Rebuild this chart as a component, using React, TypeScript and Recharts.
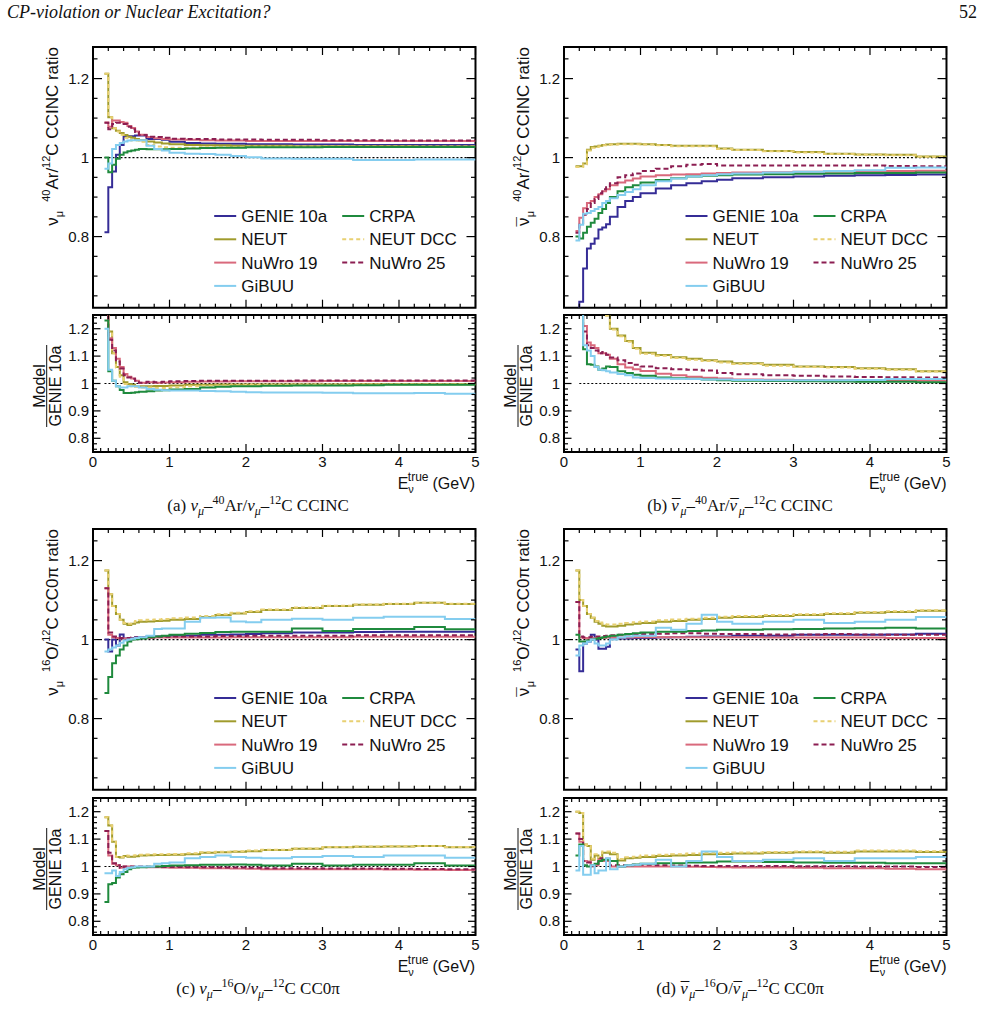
import React from 'react';
import { LineChart, Line, XAxis, YAxis, ReferenceLine, ReferenceArea } from 'recharts';

// bin edges in GeV, shared by every histogram (26 bins)
const EDGES = [0.15, 0.2, 0.25, 0.3, 0.35, 0.4, 0.45, 0.5, 0.55, 0.6, 0.7, 0.8, 0.9, 1.0, 1.2, 1.4, 1.6, 1.8, 2.0, 2.2, 2.6, 3.0, 3.4, 3.8, 4.2, 4.6, 5.0];

const X_LABELS = ['0', '1', '2', '3', '4', '5'];
const TOP_Y_MAJOR = [0.8, 1.0, 1.2];
const TOP_Y_LABELS = ['0.8', '1', '1.2'];
const RATIO_Y_MAJOR = [0.8, 0.9, 1.0, 1.1, 1.2];
const RATIO_Y_LABELS = ['0.8', '0.9', '1', '1.1', '1.2'];

// (a) numu 40Ar / 12C CCINC
const A_GENIE = [0.811, 0.925, 0.965, 1.007, 1.032, 1.052, 1.054, 1.054, 1.056, 1.056, 1.047, 1.047, 1.045, 1.04, 1.037, 1.036, 1.035, 1.035, 1.034, 1.034, 1.033, 1.033, 1.032, 1.032, 1.032, 1.032];
const A_NEUT = [1.212, 1.102, 1.074, 1.068, 1.062, 1.057, 1.053, 1.05, 1.047, 1.044, 1.041, 1.038, 1.036, 1.034, 1.032, 1.031, 1.031, 1.03, 1.03, 1.03, 1.029, 1.029, 1.029, 1.029, 1.028, 1.028];
const A_DCC = [1.212, 1.102, 1.074, 1.066, 1.058, 1.05, 1.046, 1.043, 1.043, 1.04, 1.032, 1.028, 1.026, 1.025, 1.025, 1.026, 1.027, 1.027, 1.028, 1.028, 1.028, 1.028, 1.028, 1.028, 1.028, 1.028];
const A_NUWRO19 = [1.089, 1.078, 1.094, 1.094, 1.09, 1.088, 1.08, 1.075, 1.066, 1.058, 1.052, 1.049, 1.047, 1.046, 1.045, 1.044, 1.043, 1.043, 1.042, 1.042, 1.042, 1.042, 1.042, 1.042, 1.042, 1.042];
const A_NUWRO25 = [1.088, 1.072, 1.085, 1.088, 1.088, 1.085, 1.078, 1.072, 1.065, 1.057, 1.053, 1.052, 1.05, 1.048, 1.047, 1.047, 1.046, 1.046, 1.046, 1.045, 1.045, 1.044, 1.044, 1.043, 1.043, 1.043];
const A_CRPA = [1.0, 0.963, 0.982, 0.997, 1.007, 1.013, 1.016, 1.018, 1.02, 1.022, 1.021, 1.021, 1.021, 1.022, 1.023, 1.024, 1.025, 1.025, 1.026, 1.026, 1.026, 1.027, 1.027, 1.027, 1.027, 1.027];
const A_GIBUU = [0.972, 0.985, 1.022, 1.032, 1.037, 1.041, 1.043, 1.044, 1.044, 1.044, 1.03, 1.022, 1.018, 1.012, 1.01, 1.009, 1.007, 1.004, 1.001, 0.998, 0.997, 0.997, 0.994, 0.994, 0.995, 0.995];

const AR_NEUT = [1.49, 1.19, 1.11, 1.06, 1.03, 1.005, 0.998, 0.995, 0.99, 0.99, 0.99, 0.991, 0.991, 0.993, 0.995, 0.995, 0.996, 0.996, 0.996, 0.996, 0.996, 0.996, 0.997, 0.997, 0.997, 0.997];
const AR_DCC = [1.49, 1.19, 1.11, 1.058, 1.025, 0.998, 0.992, 0.99, 0.988, 0.985, 0.985, 0.984, 0.984, 0.986, 0.99, 0.992, 0.993, 0.994, 0.995, 0.995, 0.996, 0.996, 0.996, 0.997, 0.997, 0.997];
const AR_NUWRO19 = [1.35, 1.165, 1.13, 1.09, 1.06, 1.035, 1.025, 1.018, 1.01, 1.003, 1.005, 1.003, 1.004, 1.005, 1.006, 1.007, 1.007, 1.008, 1.008, 1.008, 1.008, 1.009, 1.009, 1.009, 1.009, 1.009];
const AR_NUWRO25 = [1.35, 1.16, 1.12, 1.08, 1.055, 1.03, 1.022, 1.017, 1.01, 1.003, 1.006, 1.005, 1.006, 1.008, 1.009, 1.01, 1.01, 1.01, 1.01, 1.01, 1.011, 1.011, 1.011, 1.011, 1.011, 1.011];
const AR_CRPA = [1.23, 1.045, 1.01, 0.99, 0.976, 0.965, 0.965, 0.966, 0.968, 0.97, 0.972, 0.974, 0.975, 0.978, 0.98, 0.985, 0.988, 0.99, 0.99, 0.992, 0.993, 0.993, 0.994, 0.995, 0.995, 0.995];
const AR_GIBUU = [1.2, 1.05, 1.01, 0.99, 0.985, 0.985, 0.99, 0.99, 0.99, 0.985, 0.98, 0.977, 0.975, 0.974, 0.974, 0.973, 0.972, 0.97, 0.968, 0.967, 0.967, 0.966, 0.964, 0.964, 0.965, 0.963];

// (b) numubar 40Ar / 12C CCINC
const B_GENIE = [0.55, 0.635, 0.719, 0.77, 0.782, 0.795, 0.818, 0.823, 0.831, 0.85, 0.875, 0.89, 0.9, 0.91, 0.922, 0.93, 0.935, 0.94, 0.944, 0.948, 0.95, 0.952, 0.954, 0.955, 0.956, 0.957];
const B_NEUT = [0.978, 0.978, 0.985, 1.02, 1.027, 1.028, 1.03, 1.032, 1.033, 1.034, 1.035, 1.035, 1.035, 1.034, 1.032, 1.03, 1.03, 1.03, 1.023, 1.02, 1.017, 1.014, 1.01, 1.008, 1.007, 1.003];
const B_DCC = [0.976, 0.976, 0.983, 1.018, 1.025, 1.027, 1.029, 1.031, 1.032, 1.033, 1.034, 1.034, 1.034, 1.033, 1.031, 1.029, 1.029, 1.029, 1.022, 1.019, 1.016, 1.013, 1.009, 1.007, 1.006, 1.002];
const B_NUWRO19 = [0.814, 0.848, 0.872, 0.885, 0.89, 0.9, 0.907, 0.915, 0.92, 0.93, 0.937, 0.942, 0.947, 0.952, 0.955, 0.957, 0.958, 0.96, 0.961, 0.962, 0.963, 0.964, 0.965, 0.966, 0.966, 0.967];
const B_NUWRO25 = [0.81, 0.83, 0.855, 0.87, 0.885, 0.895, 0.91, 0.92, 0.925, 0.935, 0.95, 0.955, 0.96, 0.966, 0.972, 0.978, 0.982, 0.984, 0.98, 0.98, 0.98, 0.98, 0.98, 0.98, 0.979, 0.978];
const B_CRPA = [0.8, 0.795, 0.81, 0.825, 0.835, 0.845, 0.86, 0.87, 0.885, 0.9, 0.915, 0.925, 0.93, 0.937, 0.943, 0.948, 0.952, 0.954, 0.955, 0.957, 0.958, 0.959, 0.96, 0.961, 0.961, 0.962];
const B_GIBUU = [0.79, 0.83, 0.858, 0.86, 0.865, 0.87, 0.875, 0.885, 0.89, 0.897, 0.905, 0.913, 0.92, 0.93, 0.94, 0.947, 0.952, 0.955, 0.958, 0.96, 0.962, 0.964, 0.966, 0.968, 0.974, 0.975];

const BR_NEUT = [1.6, 1.55, 1.4, 1.33, 1.31, 1.29, 1.27, 1.26, 1.25, 1.2, 1.175, 1.155, 1.13, 1.112, 1.104, 1.096, 1.09, 1.085, 1.08, 1.074, 1.068, 1.062, 1.06, 1.056, 1.052, 1.045];
const BR_DCC = [1.6, 1.55, 1.4, 1.33, 1.31, 1.29, 1.268, 1.257, 1.247, 1.197, 1.172, 1.152, 1.127, 1.109, 1.101, 1.093, 1.087, 1.082, 1.077, 1.071, 1.065, 1.06, 1.058, 1.054, 1.05, 1.044];
const BR_NUWRO19 = [1.5, 1.33, 1.21, 1.15, 1.14, 1.13, 1.11, 1.11, 1.105, 1.09, 1.07, 1.058, 1.052, 1.046, 1.036, 1.03, 1.025, 1.021, 1.018, 1.015, 1.014, 1.013, 1.012, 1.011, 1.01, 1.01];
const BR_NUWRO25 = [1.4, 1.3, 1.19, 1.14, 1.13, 1.12, 1.11, 1.115, 1.105, 1.095, 1.085, 1.075, 1.068, 1.062, 1.056, 1.052, 1.05, 1.047, 1.038, 1.034, 1.03, 1.028, 1.026, 1.024, 1.023, 1.022];
const BR_CRPA = [1.4, 1.26, 1.125, 1.07, 1.068, 1.062, 1.05, 1.055, 1.062, 1.06, 1.045, 1.038, 1.032, 1.028, 1.022, 1.019, 1.017, 1.015, 1.012, 1.01, 1.009, 1.008, 1.007, 1.006, 1.006, 1.005];
const BR_GIBUU = [1.4, 1.3, 1.14, 1.12, 1.1, 1.06, 1.05, 1.048, 1.045, 1.04, 1.035, 1.03, 1.022, 1.02, 1.018, 1.017, 1.016, 1.015, 1.015, 1.013, 1.012, 1.012, 1.012, 1.013, 1.016, 1.016];

// (c) numu 16O / 12C CC0pi
const C_GENIE = [1.0, 0.97, 1.0, 0.985, 1.013, 1.003, 1.002, 1.004, 1.006, 1.006, 1.008, 1.008, 1.009, 1.01, 1.01, 1.012, 1.012, 1.013, 1.014, 1.016, 1.018, 1.018, 1.019, 1.02, 1.02, 1.02];
const C_NEUT = [1.175, 1.115, 1.085, 1.065, 1.05, 1.04, 1.037, 1.04, 1.043, 1.045, 1.046, 1.047, 1.048, 1.05, 1.052, 1.057, 1.062, 1.066, 1.07, 1.075, 1.08, 1.085, 1.088, 1.09, 1.093, 1.09];
const C_DCC = [1.175, 1.115, 1.085, 1.065, 1.05, 1.042, 1.04, 1.044, 1.047, 1.049, 1.05, 1.051, 1.052, 1.054, 1.056, 1.06, 1.064, 1.068, 1.072, 1.076, 1.081, 1.086, 1.089, 1.091, 1.093, 1.091];
const C_NUWRO19 = [1.13, 1.012, 1.006, 1.004, 1.003, 1.003, 1.003, 1.003, 1.004, 1.004, 1.004, 1.005, 1.005, 1.005, 1.005, 1.005, 1.005, 1.006, 1.006, 1.006, 1.006, 1.006, 1.007, 1.007, 1.007, 1.007];
const C_NUWRO25 = [1.13, 1.018, 1.008, 1.005, 1.004, 1.004, 1.004, 1.005, 1.005, 1.006, 1.006, 1.007, 1.007, 1.008, 1.008, 1.008, 1.009, 1.009, 1.01, 1.01, 1.01, 1.01, 1.011, 1.011, 1.011, 1.011];
const C_CRPA = [0.865, 0.905, 0.94, 0.96, 0.975, 0.985, 0.995, 1.0, 1.001, 1.003, 1.006, 1.008, 1.01, 1.012, 1.015, 1.017, 1.019, 1.02, 1.02, 1.02, 1.028, 1.022, 1.027, 1.027, 1.032, 1.026];
const C_GIBUU = [0.97, 0.975, 0.98, 0.985, 0.992, 0.998, 1.0, 1.002, 1.004, 1.006, 1.01, 1.027, 1.028, 1.028, 1.045, 1.055, 1.056, 1.046, 1.044, 1.05, 1.053, 1.05, 1.055, 1.058, 1.058, 1.052];

const CR_NEUT = [1.18, 1.15, 1.09, 1.035, 1.033, 1.038, 1.036, 1.036, 1.037, 1.04, 1.041, 1.042, 1.042, 1.043, 1.045, 1.05, 1.052, 1.054, 1.056, 1.06, 1.065, 1.07, 1.072, 1.073, 1.075, 1.07];
const CR_DCC = [1.18, 1.15, 1.09, 1.035, 1.035, 1.04, 1.039, 1.04, 1.041, 1.043, 1.044, 1.045, 1.045, 1.046, 1.048, 1.052, 1.054, 1.056, 1.058, 1.061, 1.066, 1.071, 1.073, 1.074, 1.075, 1.071];
const CR_NUWRO19 = [1.13, 1.04, 1.01, 1.005, 0.995, 1.0, 1.0, 0.999, 0.998, 0.998, 0.997, 0.997, 0.996, 0.995, 0.995, 0.994, 0.994, 0.993, 0.992, 0.99, 0.99, 0.99, 0.99, 0.989, 0.988, 0.987];
const CR_NUWRO25 = [1.13, 1.05, 1.012, 1.005, 0.995, 1.0, 1.0, 1.0, 1.0, 1.0, 0.999, 0.999, 0.998, 0.998, 0.997, 0.997, 0.996, 0.996, 0.995, 0.994, 0.994, 0.993, 0.993, 0.992, 0.991, 0.99];
const CR_CRPA = [0.87, 0.935, 0.94, 0.96, 0.972, 0.98, 0.99, 0.995, 0.996, 0.997, 0.999, 1.0, 1.002, 1.004, 1.005, 1.006, 1.006, 1.007, 1.006, 1.004, 1.01, 1.004, 1.006, 1.006, 1.012, 1.004];
const CR_GIBUU = [0.975, 0.975, 0.985, 0.965, 0.98, 0.99, 0.995, 0.997, 1.0, 1.0, 1.0, 1.01, 1.012, 1.015, 1.03, 1.035, 1.04, 1.035, 1.032, 1.03, 1.035, 1.038, 1.035, 1.04, 1.04, 1.032];

// (d) numubar 16O / 12C CC0pi
const D_GENIE = [0.975, 0.92, 0.99, 0.995, 1.012, 1.0, 0.977, 0.977, 0.982, 1.005, 1.003, 1.003, 1.004, 1.004, 1.005, 1.006, 1.007, 1.008, 1.008, 1.01, 1.01, 1.012, 1.012, 1.012, 1.013, 1.015];
const D_NEUT = [1.175, 1.1, 1.085, 1.065, 1.055, 1.045, 1.04, 1.035, 1.033, 1.033, 1.035, 1.038, 1.04, 1.042, 1.045, 1.047, 1.05, 1.052, 1.055, 1.057, 1.06, 1.062, 1.065, 1.068, 1.07, 1.073];
const D_DCC = [1.175, 1.1, 1.085, 1.065, 1.055, 1.047, 1.043, 1.039, 1.038, 1.038, 1.04, 1.042, 1.044, 1.046, 1.049, 1.051, 1.053, 1.055, 1.058, 1.06, 1.062, 1.064, 1.067, 1.07, 1.072, 1.074];
const D_NUWRO19 = [1.095, 1.005, 1.004, 1.003, 1.003, 1.004, 1.004, 1.004, 1.005, 1.005, 1.005, 1.005, 1.006, 1.006, 1.006, 1.006, 1.006, 1.006, 1.006, 1.006, 1.005, 1.005, 1.005, 1.005, 1.004, 1.004];
const D_NUWRO25 = [1.095, 1.008, 1.006, 1.006, 1.007, 1.008, 1.008, 1.009, 1.01, 1.011, 1.012, 1.013, 1.013, 1.014, 1.015, 1.016, 1.016, 1.015, 1.014, 1.014, 1.013, 1.013, 1.014, 1.013, 1.012, 1.012];
const D_CRPA = [1.012, 0.995, 0.995, 0.998, 1.0, 1.002, 1.004, 1.006, 1.008, 1.01, 1.012, 1.014, 1.016, 1.018, 1.02, 1.02, 1.022, 1.023, 1.025, 1.025, 1.026, 1.027, 1.028, 1.029, 1.03, 1.028];
const D_GIBUU = [0.96, 0.985, 0.99, 0.995, 1.0, 0.99, 0.985, 0.985, 0.99, 1.0, 1.005, 1.008, 1.01, 1.01, 1.03, 1.025, 1.04, 1.063, 1.045, 1.04, 1.045, 1.05, 1.042, 1.045, 1.05, 1.057];

const DR_NEUT = [1.2, 1.195, 1.08, 1.075, 1.025, 1.04, 1.03, 1.05, 1.05, 1.045, 1.022, 1.03, 1.032, 1.035, 1.038, 1.04, 1.042, 1.045, 1.046, 1.047, 1.05, 1.052, 1.05, 1.055, 1.055, 1.053];
const DR_DCC = [1.2, 1.195, 1.08, 1.075, 1.028, 1.045, 1.035, 1.055, 1.055, 1.05, 1.027, 1.034, 1.036, 1.04, 1.043, 1.045, 1.047, 1.05, 1.05, 1.051, 1.053, 1.055, 1.054, 1.058, 1.058, 1.056];
const DR_NUWRO19 = [1.12, 1.09, 1.02, 1.018, 1.0, 1.005, 1.025, 1.02, 1.02, 1.0, 1.0, 1.0, 1.0, 1.0, 1.0, 1.0, 0.999, 0.998, 0.997, 0.996, 0.996, 0.995, 0.994, 0.994, 0.992, 0.99];
const DR_NUWRO25 = [1.12, 1.1, 1.02, 1.015, 1.002, 1.01, 1.03, 1.025, 1.028, 1.005, 1.005, 1.005, 1.006, 1.006, 1.005, 1.004, 1.003, 1.002, 1.002, 1.002, 1.002, 1.001, 1.001, 1.0, 1.0, 0.998];
const DR_CRPA = [1.04, 1.08, 1.005, 1.0, 1.005, 1.01, 1.02, 1.025, 1.025, 1.02, 1.0, 1.005, 1.007, 1.01, 1.012, 1.012, 1.015, 1.015, 1.018, 1.018, 1.016, 1.015, 1.014, 1.014, 1.012, 1.012];
const DR_GIBUU = [0.985, 1.075, 0.97, 0.97, 1.005, 0.975, 0.985, 0.985, 1.03, 0.99, 1.0, 1.005, 1.006, 1.01, 1.025, 1.0, 1.02, 1.055, 1.035, 1.02, 1.025, 1.03, 1.02, 1.03, 1.03, 1.035];

const SANS = '"Liberation Sans", Arial, sans-serif';
const SERIF = '"Liberation Serif", "Times New Roman", serif';
const INK = '#111';

const MODELS = [
  { key: 'genie', name: 'GENIE 10a', color: '#352c96', dash: undefined as string | undefined },
  { key: 'neut', name: 'NEUT', color: '#a09b2c', dash: undefined },
  { key: 'dcc', name: 'NEUT DCC', color: '#e8d072', dash: '4 3' },
  { key: 'nuwro19', name: 'NuWro 19', color: '#d9697c', dash: undefined },
  { key: 'nuwro25', name: 'NuWro 25', color: '#8c1e52', dash: '5 3' },
  { key: 'crpa', name: 'CRPA', color: '#1f8a3d', dash: undefined },
  { key: 'gibuu', name: 'GiBUU', color: '#84cdef', dash: undefined },
];

// each bin value starts at its lower edge; the 5 GeV edge repeats the last bin
const histRows = (cols: Record<string, number[]>) =>
  EDGES.map((e, i) => {
    const row: Record<string, number> = { e };
    Object.entries(cols).forEach(([k, v]) => {
      row[k] = v[Math.min(i, v.length - 1)];
    });
    return row;
  });

const steps = (from: number, to: number, step: number) =>
  Array.from({ length: Math.round((to - from) / step) + 1 }, (_, i) => +(from + i * step).toFixed(3));

// frame geometry (page pixels)
const COL_X = [92.7, 564];
const PLOT_W = 382.5;
const ROW_Y = [47, 529];
const TOP_H = 260.7;
const RATIO_Y = [315, 798];
const RATIO_H = 137;

interface PanelProps {
  left: number;
  top: number;
  height: number;
  rows: Record<string, number>[];
  yDom: [number, number];
  yTicks: number[];
  yMajor: number[];
  yLabels: string[];
  xTicks: number[];
  showX: boolean;
  lineFrom: number;
  len: { xMaj: number; xMin: number; yMaj: number; yMin: number };
}

function HistPanel({ left, top, height, rows, yDom, yTicks, yMajor, yLabels, xTicks, showX, lineFrom, len }: PanelProps) {
  const width = PLOT_W;
  const keys = Object.keys(rows[0]);

  const xTick = (t: any) => {
    const v = t.payload.value;
    const maj = Math.abs(v - Math.round(v)) < 1e-6;
    const l = maj ? len.xMaj : len.xMin;
    return (
      <g>
        <line x1={t.x} x2={t.x} y1={t.y} y2={t.y - l} stroke="#000" strokeWidth={1.2} />
        <line x1={t.x} x2={t.x} y1={t.y - height} y2={t.y - height + l} stroke="#000" strokeWidth={1.2} />
        {showX && maj && (
          <text x={t.x} y={t.y + 15} textAnchor="middle" fontSize={15} fontFamily={SANS} fill={INK}>
            {X_LABELS[Math.round(v)]}
          </text>
        )}
      </g>
    );
  };

  const yTick = (t: any) => {
    const v = t.payload.value;
    const k = yMajor.findIndex((m) => Math.abs(m - v) < 1e-6);
    const l = k >= 0 ? len.yMaj : len.yMin;
    return (
      <g>
        <line x1={t.x} x2={t.x + l} y1={t.y} y2={t.y} stroke="#000" strokeWidth={1.2} />
        <line x1={t.x + width} x2={t.x + width - l} y1={t.y} y2={t.y} stroke="#000" strokeWidth={1.2} />
        {k >= 0 && (
          <text x={t.x - 4} y={t.y + 5} textAnchor="end" fontSize={15} fontFamily={SANS} fill={INK}>
            {yLabels[k]}
          </text>
        )}
      </g>
    );
  };

  return (
    <div style={{ position: 'absolute', left: left - 60, top: top - 10 }}>
      <LineChart width={width + 70} height={height + 40} data={rows} margin={{ top: 10, right: 10, bottom: 0, left: 0 }}>
        <XAxis dataKey="e" type="number" domain={[0, 5]} ticks={xTicks} interval={0} allowDataOverflow
          height={30} tickSize={0} tickMargin={0} axisLine={false} tickLine={false} tick={xTick} />
        <YAxis type="number" domain={yDom} ticks={yTicks} interval={0} allowDataOverflow
          width={60} tickSize={0} tickMargin={0} axisLine={false} tickLine={false} tick={yTick} />
        <ReferenceLine segment={[{ x: lineFrom, y: 1 }, { x: 5, y: 1 }]} stroke="#000" strokeWidth={1.2} strokeDasharray="2 2" />
        {MODELS.filter((m) => keys.includes(m.key)).map((m) => (
          <Line key={m.key} dataKey={m.key} type="stepAfter" stroke={m.color} strokeWidth={2}
            strokeDasharray={m.dash} dot={false} activeDot={false} isAnimationActive={false} />
        ))}
        <ReferenceArea x1={0} x2={5} y1={yDom[0]} y2={yDom[1]} fill="none" stroke="#000" strokeWidth={2} />
      </LineChart>
    </div>
  );
}

const PANELS = [
  {
    tag: 'a', col: 0, row: 0, bar: false, a: '40', el: 'Ar', sel: 'CCINC', lineTop: 0.15, lineRatio: 0.15,
    top: histRows({ genie: A_GENIE, neut: A_NEUT, dcc: A_DCC, nuwro19: A_NUWRO19, nuwro25: A_NUWRO25, crpa: A_CRPA, gibuu: A_GIBUU }),
    ratio: histRows({ neut: AR_NEUT, dcc: AR_DCC, nuwro19: AR_NUWRO19, nuwro25: AR_NUWRO25, crpa: AR_CRPA, gibuu: AR_GIBUU }),
  },
  {
    tag: 'b', col: 1, row: 0, bar: true, a: '40', el: 'Ar', sel: 'CCINC', lineTop: 0.3, lineRatio: 0.2,
    top: histRows({ genie: B_GENIE, neut: B_NEUT, dcc: B_DCC, nuwro19: B_NUWRO19, nuwro25: B_NUWRO25, crpa: B_CRPA, gibuu: B_GIBUU }),
    ratio: histRows({ neut: BR_NEUT, dcc: BR_DCC, nuwro19: BR_NUWRO19, nuwro25: BR_NUWRO25, crpa: BR_CRPA, gibuu: BR_GIBUU }),
  },
  {
    tag: 'c', col: 0, row: 1, bar: false, a: '16', el: 'O', sel: 'CC0π', lineTop: 0.15, lineRatio: 0.15,
    top: histRows({ genie: C_GENIE, neut: C_NEUT, dcc: C_DCC, nuwro19: C_NUWRO19, nuwro25: C_NUWRO25, crpa: C_CRPA, gibuu: C_GIBUU }),
    ratio: histRows({ neut: CR_NEUT, dcc: CR_DCC, nuwro19: CR_NUWRO19, nuwro25: CR_NUWRO25, crpa: CR_CRPA, gibuu: CR_GIBUU }),
  },
  {
    tag: 'd', col: 1, row: 1, bar: true, a: '16', el: 'O', sel: 'CC0π', lineTop: 0.15, lineRatio: 0.15,
    top: histRows({ genie: D_GENIE, neut: D_NEUT, dcc: D_DCC, nuwro19: D_NUWRO19, nuwro25: D_NUWRO25, crpa: D_CRPA, gibuu: D_GIBUU }),
    ratio: histRows({ neut: DR_NEUT, dcc: DR_DCC, nuwro19: DR_NUWRO19, nuwro25: DR_NUWRO25, crpa: DR_CRPA, gibuu: DR_GIBUU }),
  },
];

const LEGEND_SLOTS: Record<string, [number, number]> = {
  genie: [0, 0], crpa: [1, 0], neut: [0, 1], dcc: [1, 1], nuwro19: [0, 2], nuwro25: [1, 2], gibuu: [0, 3],
};

// nu, or nu with a macron laid over it (back-step by roughly the glyph width)
const Nu = ({ bar, back, italic }: { bar: boolean; back: number; italic?: boolean }) => (
  <>
    <tspan fontStyle={italic ? 'italic' : undefined}>ν</tspan>
    {bar && <tspan dx={-back}>¯</tspan>}
  </>
);

function Labels({ p }: { p: (typeof PANELS)[number] }) {
  const fx = COL_X[p.col];
  const fy = ROW_Y[p.row];
  const ry = RATIO_Y[p.row];
  const capX = p.col === 0 ? 258 : 740;
  return (
    <g fill={INK}>
      {/* y title, top panel */}
      <text transform={`translate(${fx - 35},${fy}) rotate(-90)`} textAnchor="end" fontFamily={SANS} fontSize={17}>
        <Nu bar={p.bar} back={9} />
        <tspan fontSize={11} dy={5}>μ</tspan>
        <tspan fontSize={11} dx={9} dy={-13}>{p.a}</tspan>
        <tspan dy={8}>{`${p.el}/`}</tspan>
        <tspan fontSize={11} dy={-8}>12</tspan>
        <tspan dy={8}>{`C ${p.sel} ratio`}</tspan>
      </text>
      {/* y title, ratio panel */}
      <g transform={`translate(${fx - 46},${ry + 71}) rotate(-90)`} fontFamily={SANS} fontSize={16}>
        <text x={0} y={-2} textAnchor="middle">Model</text>
        <line x1={-41} x2={41} y1={0} y2={0} stroke={INK} strokeWidth={1} />
        <text x={0} y={14} textAnchor="middle">GENIE 10a</text>
      </g>
      {/* x title */}
      <text x={fx + PLOT_W} y={ry + RATIO_H + 37} textAnchor="end" fontFamily={SANS} fontSize={16}>
        <tspan>E</tspan>
        <tspan fontSize={11} dy={4}>ν</tspan>
        <tspan fontSize={12} dx={-6} dy={-12}>true</tspan>
        <tspan dx={4} dy={8}>(GeV)</tspan>
      </text>
      {/* legend */}
      {MODELS.map((m) => {
        const [c, r] = LEGEND_SLOTS[m.key];
        const ly = fy + 169 + r * 23.3;
        const sx = fx + (c === 0 ? 121.5 : 249.5);
        return (
          <g key={m.key}>
            <line x1={sx} x2={sx + 22} y1={ly} y2={ly} stroke={m.color} strokeWidth={2} strokeDasharray={m.dash} />
            <text x={sx + 27} y={ly + 6} fontFamily={SANS} fontSize={17}>{m.name}</text>
          </g>
        );
      })}
      {/* caption */}
      <text x={capX} y={ry + RATIO_H + 59} textAnchor="middle" fontFamily={SERIF} fontSize={17}>
        <tspan>{`(${p.tag}) `}</tspan>
        <Nu bar={p.bar} back={7} italic />
        <tspan fontStyle="italic" fontSize={12} dy={4}>μ</tspan>
        <tspan dy={-4}>–</tspan>
        <tspan fontSize={12} dy={-7}>{p.a}</tspan>
        <tspan dy={7}>{`${p.el}/`}</tspan>
        <Nu bar={p.bar} back={7} italic />
        <tspan fontStyle="italic" fontSize={12} dy={4}>μ</tspan>
        <tspan dy={-4}>–</tspan>
        <tspan fontSize={12} dy={-7}>12</tspan>
        <tspan dy={7}>{`C ${p.sel}`}</tspan>
      </text>
    </g>
  );
}

export default function App() {
  const topTicks = steps(0.65, 1.25, 0.05);
  const ratioTicks = steps(0.76, 1.24, 0.02);
  return (
    <div style={{ position: 'absolute', left: 0, top: 0, width: 984, height: 1030, background: '#fff', overflow: 'hidden' }}>
      {PANELS.map((p) => (
        <React.Fragment key={p.tag}>
          <HistPanel left={COL_X[p.col]} top={ROW_Y[p.row]} height={TOP_H} rows={p.top} yDom={[0.62, 1.28]}
            yTicks={topTicks} yMajor={TOP_Y_MAJOR} yLabels={TOP_Y_LABELS} xTicks={steps(0, 5, 0.2)}
            showX={false} lineFrom={p.lineTop} len={{ xMaj: 8, xMin: 4, yMaj: 9, yMin: 4.5 }} />
          <HistPanel left={COL_X[p.col]} top={RATIO_Y[p.row]} height={RATIO_H} rows={p.ratio} yDom={[0.75, 1.25]}
            yTicks={ratioTicks} yMajor={RATIO_Y_MAJOR} yLabels={RATIO_Y_LABELS} xTicks={steps(0, 5, 0.1)}
            showX lineFrom={p.lineRatio} len={{ xMaj: 8, xMin: 4, yMaj: 7.5, yMin: 4 }} />
        </React.Fragment>
      ))}
      <svg width={984} height={1030} style={{ position: 'absolute', left: 0, top: 0, pointerEvents: 'none' }}>
        <text x={7} y={18} fontFamily={SERIF} fontStyle="italic" fontSize={18} fill={INK}>CP-violation or Nuclear Excitation?</text>
        <text x={977} y={18} textAnchor="end" fontFamily={SERIF} fontSize={18} fill={INK}>52</text>
        {PANELS.map((p) => <Labels key={p.tag} p={p} />)}
      </svg>
    </div>
  );
}
